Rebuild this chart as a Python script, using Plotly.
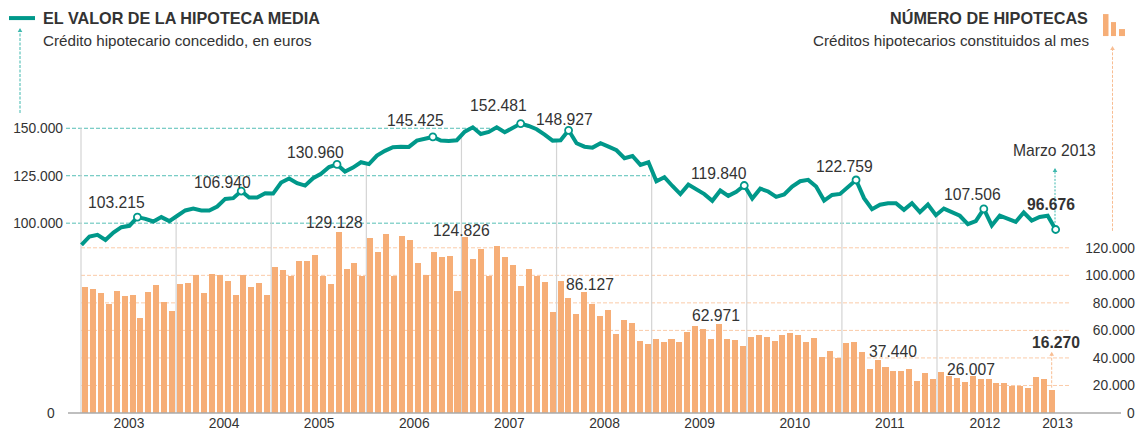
import numpy as np
import plotly.graph_objects as go

YEARS = list(range(2003, 2014))
VALOR_MEDIO = [
    88600, 93000, 93900, 91200, 95100, 97900, 98600, 103215, 102300, 100900, 103200, 101100,
    103900, 106700, 107700, 106700, 106700, 108800, 112800, 113200, 116940, 113500, 113500, 115800,
    115600, 121400, 123500, 121100, 119800, 123700, 126000, 129600, 130960, 127200, 129300, 132100,
    131100, 135600, 138100, 140000, 140300, 140200, 143500, 144200, 145425, 143500, 143300, 143700,
    148200, 150500, 147000, 148100, 150500, 147900, 150300, 152481, 151200, 149500, 146700, 143500,
    143700, 148927, 142100, 140300, 139800, 142100, 140300, 138400, 134200, 135400, 130700, 132100,
    122100, 124200, 119600, 115300, 120300, 117900, 115300, 111800, 117200, 114400, 116500, 119840,
    113000, 118200, 116700, 113900, 115100, 119300, 122100, 122800, 119300, 111900, 114900, 115400,
    118800, 122759, 113200, 107400, 109700, 110500, 110500, 107000, 110500, 105800, 109800, 104200,
    107700, 106000, 103900, 99500, 101100, 107506, 98800, 104000, 102600, 100700, 105600, 101400,
    103300, 103900, 96676,
]
NUM_HIPOTECAS = [
    91400, 90200, 87100, 79300, 88500, 84700, 85400, 68900, 87600, 92900, 80300, 74000,
    93900, 94600, 100600, 87100, 101100, 100400, 96000, 85400, 100600, 91400, 94600, 85400,
    106200, 104000, 99700, 110500, 110300, 114900, 99700, 93400, 131800, 104700, 109300, 99700,
    126800, 116800, 129900, 99700, 128700, 125500, 109300, 100400, 117100, 113500, 113900, 88500,
    127500, 112000, 119300, 99700, 120950, 113500, 107200, 92600, 104300, 99700, 95100, 73500,
    95600, 83900, 71800, 87800, 79100, 70400, 74500, 57300, 67700, 65600, 52500, 49800,
    53900, 51800, 53500, 51800, 59000, 63100, 61200, 53500, 64600, 53500, 53200, 48600,
    55200, 56400, 55400, 52000, 56800, 58100, 56800, 51500, 54200, 40400, 45000, 40200,
    50800, 51300, 44000, 32200, 38200, 33400, 30500, 30500, 32200, 23200, 28800, 24900,
    30000, 27100, 25600, 22300, 26600, 24900, 24900, 21800, 21800, 19600, 19600, 18400,
    26400, 24900, 16900,
]
HIGHLIGHT_IDX = [7, 20, 32, 44, 55, 61, 83, 97, 113, 122]
LEFT_TICKS = [100000, 125000, 150000]
RIGHT_TICKS = [0, 20000, 40000, 60000, 80000, 100000, 120000]

TEAL = "#00988a"
TEAL_L = "#55bfb6"
ORANGE = "#f6ae77"
ORANGE_L = "#fbcba8"
TXT = "#333333"
FONT = "Liberation Sans"
FS = 13.8
FL = 15.7

W, H = 1140, 432
PL, PR, PT, PB = 68, 1138, 100, 413.3
M_BAR, X_BAR = 7.926, 81.0      # px per month, px of month 0 (bars)
M_LINE, X_LINE = 7.985, 81.5    # px per month, px of first point (line)
K_BAR, K_LINE = 1.378e-3, 1.9e-3  # px per unit


def px(x):
    return (x - PL) / (PR - PL)


def py(y):
    return (PB - y) / (PB - PT)


fig = go.Figure()

months = np.arange(len(NUM_HIPOTECAS))
fig.add_trace(go.Bar(x=months + 0.5, y=NUM_HIPOTECAS, width=0.76, marker=dict(color=ORANGE, line=dict(width=0)),
                     xaxis="x", yaxis="y", hoverinfo="skip", showlegend=False))
fig.add_trace(go.Scatter(x=np.arange(len(VALOR_MEDIO)), y=VALOR_MEDIO, mode="lines",
                         line=dict(color=TEAL, width=4, shape="linear"),
                         xaxis="x2", yaxis="y2", hoverinfo="skip", showlegend=False))
fig.add_trace(go.Scatter(x=HIGHLIGHT_IDX, y=[VALOR_MEDIO[i] for i in HIGHLIGHT_IDX], mode="markers",
                         marker=dict(size=7, color="white", line=dict(color=TEAL, width=1.8)),
                         xaxis="x2", yaxis="y2", hoverinfo="skip", showlegend=False))

shapes = []

# teal reference lines (each stops where the series leaves it)
for val, xend in zip(LEFT_TICKS, [967, 650, 490]):
    shapes.append(dict(type="line", xref="paper", yref="y2", x0=px(66), x1=px(xend), y0=val, y1=val,
                       line=dict(color=TEAL_L, width=1, dash="4px,2px"), layer="below"))
# orange reference lines
for val in RIGHT_TICKS[1:]:
    shapes.append(dict(type="line", xref="paper", yref="y", x0=px(81), x1=px(1070), y0=val, y1=val,
                       line=dict(color=ORANGE_L, width=1, dash="4px,2px"), layer="below"))
# year separators rising to the line
for k in range(len(YEARS) - 1):
    xp = X_BAR + 12 * k * M_BAR
    idx = (xp - X_LINE) / M_LINE
    top = 150000 if k == 0 else float(np.interp(idx, np.arange(len(VALOR_MEDIO)), VALOR_MEDIO))
    shapes.append(dict(type="line", xref="x", yref="y2", x0=12 * k, x1=12 * k, y0=0, y1=top,
                       line=dict(color="#d4d4d4", width=1.2), layer="below"))
# baseline
shapes.append(dict(type="line", xref="paper", yref="paper", x0=px(68), x1=px(1121), y0=0, y1=0,
                   line=dict(color="#aaaaaa", width=1.3), layer="above"))
# legend key line
shapes.append(dict(type="line", xref="paper", yref="paper", x0=px(9), x1=px(35), y0=py(18), y1=py(18),
                   line=dict(color=TEAL, width=4), layer="above"))
# bars icon
for x0, x1, top in [(1103, 1108.5, 14), (1111, 1116, 22), (1119, 1125, 29)]:
    shapes.append(dict(type="rect", xref="paper", yref="paper", x0=px(x0), x1=px(x1), y0=py(top), y1=py(36),
                       fillcolor=ORANGE, line=dict(width=0), layer="above"))


def arrow(x, y0, y1, color, dash):
    shapes.append(dict(type="line", xref="paper", yref="paper", x0=px(x), x1=px(x), y0=py(y0), y1=py(y1),
                       line=dict(color=color, width=1, dash=dash), layer="above"))
    a, b, c = px(x - 2.3), px(x + 2.3), px(x)
    shapes.append(dict(type="path", xref="paper", yref="paper",
                       path=f"M {a} {py(y1 + 3)} L {c} {py(y1 - 1)} L {b} {py(y1 + 3)} Z",
                       fillcolor=color, line=dict(width=0), layer="above"))


arrow(20, 113, 29, "#3fb8ae", "3px,1.5px")
arrow(1112.5, 231, 47, "#f8bd92", "3px,1.5px")
arrow(1055, 223, 169, "#3fb8ae", "2px,1.5px")
arrow(1051.7, 388, 353, "#f8bd92", "3px,1.5px")

# text: (string, centre px x, centre px y, bold)
LABELS = [
    ("103.215", 116.7, 202.7, False), ("106.940", 222.7, 182.7, False), ("130.960", 315.3, 152.3, False),
    ("145.425", 415, 120.7, False), ("152.481", 498.7, 105.3, False), ("148.927", 564, 120, False),
    ("119.840", 719.3, 173.3, False), ("122.759", 844.7, 166.3, False), ("107.506", 972.3, 194.7, False),
    ("96.676", 1051.3, 204.3, True), ("Marzo 2013", 1054, 150.7, False),
    ("129.128", 334, 222.3, False), ("124.826", 461.3, 231, False), ("86.127", 590, 284.7, False),
    ("62.971", 715.7, 315.3, False), ("37.440", 893.3, 351.7, False), ("26.007", 970.7, 369.3, False),
    ("16.270", 1055.7, 342.7, True),
]
ann = []
for t, x, y, b in LABELS:
    ann.append(dict(text=f"<b>{t}</b>" if b else t, xref="paper", yref="paper", x=px(x), y=py(y),
                    xanchor="center", yanchor="middle", showarrow=False, borderpad=0,
                    font=dict(family=FONT, size=FL, color=TXT)))
for xr in (55.5, 1136):
    ann.append(dict(text="0", xref="paper", yref="paper", x=px(xr), y=py(413.5), xanchor="right", yanchor="middle",
                    showarrow=False, borderpad=0, font=dict(family=FONT, size=FS, color=TXT)))
ann.append(dict(text="<b>EL VALOR DE LA HIPOTECA MEDIA</b>", xref="paper", yref="paper", x=px(41.5), y=py(18),
                xanchor="left", yanchor="middle", showarrow=False, borderpad=0,
                font=dict(family=FONT, size=16.2, color=TXT)))
ann.append(dict(text="Crédito hipotecario concedido, en euros", xref="paper", yref="paper", x=px(41.5), y=py(40),
                xanchor="left", yanchor="middle", showarrow=False, borderpad=0,
                font=dict(family=FONT, size=15.2, color=TXT)))
ann.append(dict(text="<b>NÚMERO DE HIPOTECAS</b>", xref="paper", yref="paper", x=px(1089), y=py(18),
                xanchor="right", yanchor="middle", showarrow=False, borderpad=0,
                font=dict(family=FONT, size=16.2, color=TXT)))
ann.append(dict(text="Créditos hipotecarios constituidos al mes", xref="paper", yref="paper", x=px(1089.5), y=py(40),
                xanchor="right", yanchor="middle", showarrow=False, borderpad=0,
                font=dict(family=FONT, size=15.2, color=TXT)))

tick_font = dict(family=FONT, size=FS, color=TXT)
bar_x_range = [(PL - X_BAR) / M_BAR, (PR - X_BAR) / M_BAR]
line_x_range = [(PL - X_LINE) / M_LINE, (PR - X_LINE) / M_LINE]
year_ticks = [(y - YEARS[0]) * 12 + 6.05 for y in YEARS[:-1]] + [123.2]

fig.update_layout(
    width=W, height=H, autosize=False,
    margin=dict(l=PL, r=W - PR, t=PT, b=H - PB, pad=0, autoexpand=False),
    paper_bgcolor="white", plot_bgcolor="rgba(0,0,0,0)",
    separators=",.",
    bargap=0, showlegend=False,
    shapes=shapes, annotations=ann,
    xaxis=dict(range=bar_x_range, tickmode="array", tickvals=year_ticks, ticktext=[str(y) for y in YEARS],
               showgrid=False, zeroline=False, showline=False, ticks="", tickfont=tick_font, fixedrange=True,
               automargin=False),
    xaxis2=dict(range=line_x_range, overlaying="x", anchor="y2", visible=False, fixedrange=True),
    yaxis=dict(range=[0, (PB - PT) / K_BAR], side="right", ticklabelposition="inside", tickmode="array",
               tickvals=RIGHT_TICKS, tickformat=",d", showgrid=False, zeroline=False, showline=False,
               ticks="", tickfont=tick_font, fixedrange=True, automargin=False),
    yaxis2=dict(range=[0, (PB - PT) / K_LINE], side="left", overlaying="y", anchor="x", tickmode="array",
                tickvals=LEFT_TICKS, tickformat=",d", showgrid=False, zeroline=False, showline=False,
                ticks="", ticklabelstandoff=4, tickfont=tick_font, fixedrange=True, automargin=False),
)

fig.write_html("out.html", config=dict(displayModeBar=False),
               post_script="document.body.style.margin='0';")
